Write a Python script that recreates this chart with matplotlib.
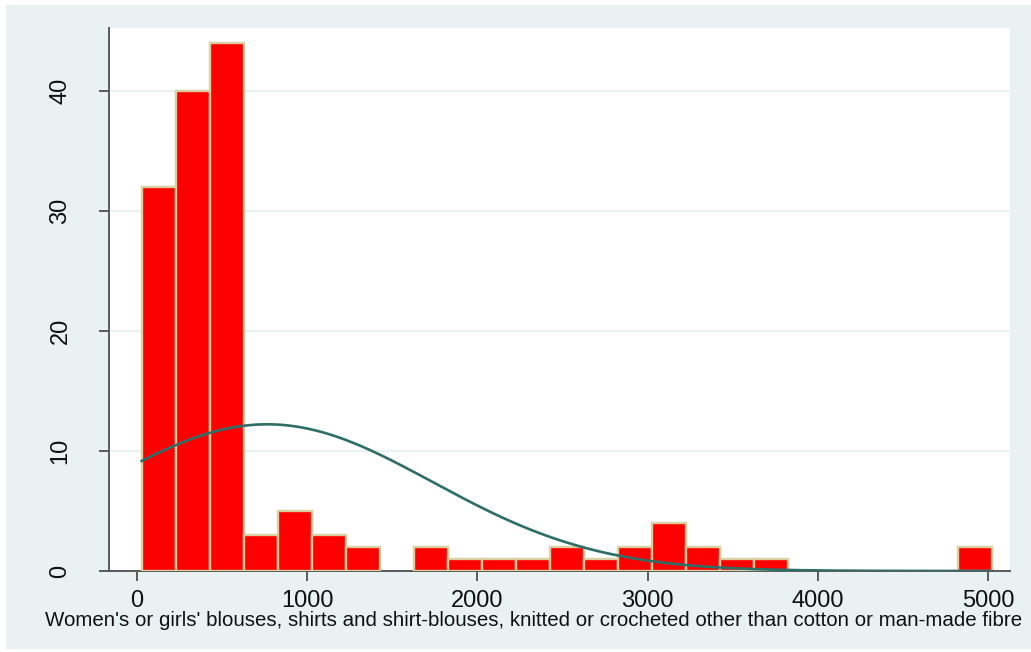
import numpy as np
import matplotlib
matplotlib.use("Agg")
import matplotlib.pyplot as plt
from matplotlib.patches import Rectangle

# Histogram of unit values with a normal density overlay (frequency scale)
bin_start = 27.6
bin_width = 199.9
counts = [32, 40, 44, 3, 5, 3, 2, 0, 2, 1, 1, 1, 2, 1, 2, 4, 2, 1, 1, 0, 0, 0, 0, 0, 2]
x_ticks = [0, 1000, 2000, 3000, 4000, 5000]
y_ticks = [0, 10, 20, 30, 40]
x_label = ("Women's or girls' blouses, shirts and shirt-blouses, knitted or "
           "crocheted other than cotton or man-made fibre")

# Normal fit parameters for the overlay
fit_mean = 765.0
fit_sd = 972.0

plt.rcParams["font.family"] = ["Liberation Sans", "DejaVu Sans"]

fig = plt.figure(figsize=(10.31, 6.52), dpi=100)
fig.patch.set_facecolor("white")
W, H = 1031, 652
bg = "#EAF1F3"
fig.add_artist(Rectangle((6 / W, (H - 649) / H), 1 - 6 / W, (649 - 5) / H,
                         transform=fig.transFigure, facecolor=bg,
                         edgecolor="none", zorder=0))

ax = fig.add_axes([109 / W, (H - 571) / H, (1010 - 109) / W, (571 - 28) / H])
ax.set_facecolor("white")

n_bins = len(counts)
edges = bin_start + bin_width * np.arange(n_bins + 1)
lefts = edges[:-1]
counts_arr = np.array(counts, dtype=float)
mask = counts_arr > 0
ax.bar(lefts[mask], counts_arr[mask], width=bin_width, align="edge",
       color="#FF0000", edgecolor="#D9CFA0", linewidth=1.7, zorder=3)

total = counts_arr.sum()
xs = np.linspace(edges[0], edges[-1], 400)
dens = total * bin_width * np.exp(-0.5 * ((xs - fit_mean) / fit_sd) ** 2) / (fit_sd * np.sqrt(2 * np.pi))
ax.plot(xs, dens, color="#2E6E68", linewidth=1.9, zorder=4)

ax.set_xlim(-164.5, 5129)
ax.set_ylim(0, 45.25)
ax.set_xticks(x_ticks)
ax.set_yticks(y_ticks)
ax.set_xticklabels([str(t) for t in x_ticks], fontsize=17)
ax.set_yticklabels([str(t) for t in y_ticks], fontsize=17, rotation=90, va="center")

for t in y_ticks[1:]:
    ax.axhline(t, color="#EAF1F3", linewidth=1.6, zorder=1)

for side in ("top", "right"):
    ax.spines[side].set_visible(False)
for side in ("left", "bottom"):
    ax.spines[side].set_color("#5A5A5A")
    ax.spines[side].set_linewidth(1.4)
ax.tick_params(axis="both", direction="out", length=7, width=1.4, color="#5A5A5A",
               labelcolor="#111111")
ax.tick_params(axis="x", pad=7)
ax.tick_params(axis="y", pad=20)

fig.text(533.5 / W, (H - 620) / H, x_label, fontsize=14.8, color="#111111",
         ha="center", va="center")

fig.savefig("out.png", dpi=100, facecolor=fig.get_facecolor())
